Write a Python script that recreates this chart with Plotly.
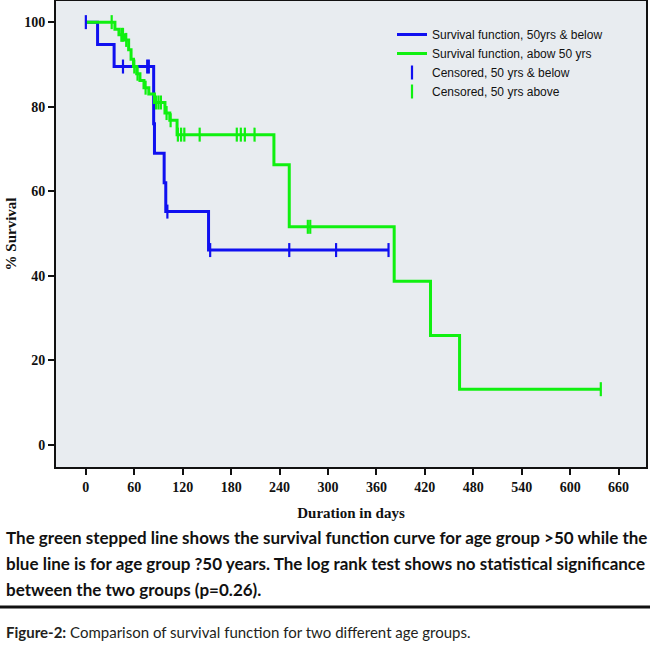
import plotly.graph_objects as go

# --- datos (Kaplan-Meier, dias vs % supervivencia) ---
blue_days = [0, 14.5, 35, 84, 85, 97, 99, 152, 375]
blue_surv = [100, 94.7, 89.5, 76, 69, 62, 55.2, 46.1, 46.1]
blue_cens_days = [0, 46, 76, 78, 101, 154, 252, 310, 375]
blue_cens_surv = [100, 89.5, 89.5, 89.5, 55.2, 46.1, 46.1, 46.1, 46.1]

green_days = [0, 36, 41, 49, 53, 56, 59, 63, 67, 72, 78, 85, 98, 104, 113,
              233, 252, 382, 427, 463, 638]
green_surv = [100, 98.3, 97, 95.8, 93.5, 91.2, 89.5, 87.8, 86.2, 84.5, 83, 81,
              78.5, 76.8, 73.4, 66.3, 51.6, 38.7, 25.9, 13.2, 13.2]
green_cens_days = [32, 44, 46, 50, 60, 64, 74, 87, 90, 93, 100, 105, 114, 118,
                   122, 141, 187, 192, 197, 209, 275, 278, 638]
green_cens_surv = [100, 97, 97, 95.8, 89.5, 87.8, 84.5, 81, 81, 81, 78.5, 76.8,
                   73.4, 73.4, 73.4, 73.4, 73.4, 73.4, 73.4, 73.4, 51.6, 51.6, 13.2]

x_ticks = [0, 60, 120, 180, 240, 300, 360, 420, 480, 540, 600, 660]
y_ticks = [0, 20, 40, 60, 80, 100]

caption_lines = [
    "The green stepped line shows the survival function curve for age group >50 while the",
    "blue line is for age group ?50 years. The log rank test shows no statistical significance",
    "between the two groups (p=0.26).",
]
figure_caption = "<b>Figure-2:</b> Comparison of survival function for two different age groups."

BLUE = "#1010F0"
GREEN = "#10F010"
SERIF = "Liberation Serif, Times New Roman, serif"
CAPTION_FONT = "Lato, Liberation Sans, sans-serif"

W, H = 650, 645
M_L, M_R, M_T, M_B = 56, 4, 1, 178
plot_w = W - M_L - M_R
plot_h = H - M_T - M_B


def px(pixel_x):
    return (pixel_x - M_L) / plot_w


def py(pixel_y):
    # pixel y de la pagina -> coordenada paper
    return (H - M_B - pixel_y) / plot_h


fig = go.Figure()

fig.add_trace(go.Scatter(
    x=blue_days, y=blue_surv, mode="lines", line_shape="hv",
    line=dict(color=BLUE, width=3), name="Survival function, 50yrs & below"
))
fig.add_trace(go.Scatter(
    x=green_days, y=green_surv, mode="lines", line_shape="hv",
    line=dict(color=GREEN, width=3), name="Survival function, abow 50 yrs"
))
fig.add_trace(go.Scatter(
    x=blue_cens_days, y=blue_cens_surv, mode="markers",
    marker=dict(symbol="line-ns", size=10, line=dict(color=BLUE, width=2.2)),
    name="Censored, 50 yrs & below"
))
fig.add_trace(go.Scatter(
    x=green_cens_days, y=green_cens_surv, mode="markers",
    marker=dict(symbol="line-ns", size=10, line=dict(color=GREEN, width=2.2)),
    name="Censored, 50 yrs above"
))

axis_common = dict(
    showgrid=False, zeroline=False, showline=True, mirror=True, automargin=False,
    linecolor="#111111", linewidth=2, ticks="outside", ticklen=6,
    tickwidth=1.5, tickcolor="#111111",
    tickfont=dict(family=SERIF, size=14, color="#111111", weight="bold"),
)

fig.update_xaxes(
    range=[-37, 694], tickvals=x_ticks,
    title=dict(text="<b>Duration in days</b>", standoff=14,
               font=dict(family=SERIF, size=15, color="#111111")),
    **axis_common
)
fig.update_yaxes(
    range=[-5.2, 105], tickvals=y_ticks,
    title=dict(text="<b>% Survival</b>", standoff=4,
               font=dict(family=SERIF, size=15, color="#111111")),
    **axis_common
)

for i, line in enumerate(caption_lines):
    fig.add_annotation(
        text="<b>" + line + "</b>", xref="paper", yref="paper",
        x=px(4), y=py(537 + 26 * i),
        xanchor="left", yanchor="middle", showarrow=False,
        font=dict(family=CAPTION_FONT, size=17, color="#111111")
    )

fig.add_annotation(
    text=figure_caption, xref="paper", yref="paper",
    x=px(4), y=py(632),
    xanchor="left", yanchor="middle", showarrow=False,
    font=dict(family=CAPTION_FONT, size=15, color="#231F20")
)

fig.add_shape(
    type="line", xref="paper", yref="paper",
    x0=px(0), x1=px(W), y0=py(607), y1=py(607),
    line=dict(color="#111111", width=3)
)

fig.update_layout(
    width=W, height=H,
    margin=dict(l=M_L, r=M_R, t=M_T, b=M_B),
    paper_bgcolor="white", plot_bgcolor="#E8ECF0",
    legend=dict(
        x=px(392), y=py(20), xanchor="left", yanchor="top",
        bgcolor="rgba(0,0,0,0)", borderwidth=0, tracegroupgap=0,
        font=dict(family="Liberation Sans, Arial, sans-serif", size=12, color="#111111"),
        itemwidth=30
    ),
)

# quitar el margen por defecto del body para que la figura llene la ventana
fig.write_html("out.html", config={"displayModeBar": False},
               post_script="document.body.style.margin='0';")
